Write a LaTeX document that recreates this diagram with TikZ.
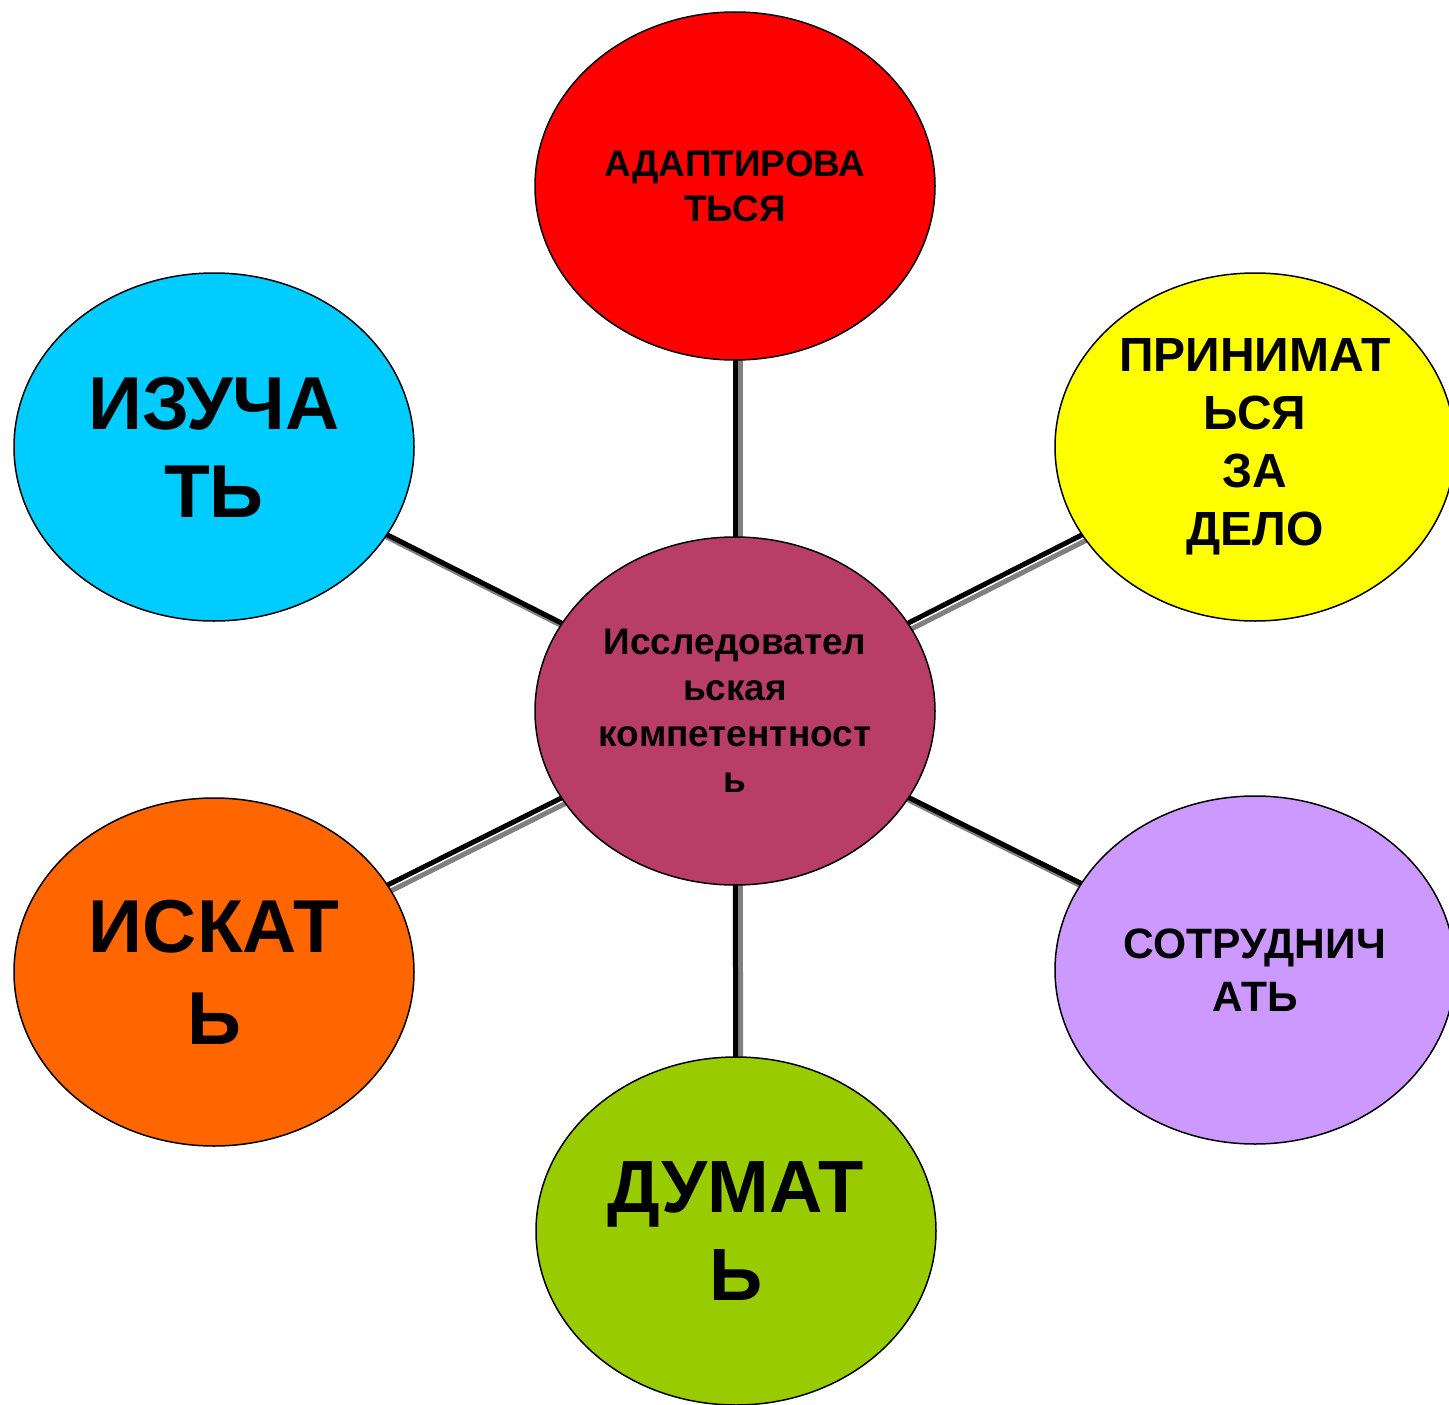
\documentclass[tikz,border=0pt]{standalone}
\usepackage{fontspec}
\setmainfont{Liberation Sans}
\usetikzlibrary{shapes.geometric,backgrounds}
\definecolor{cred}{HTML}{FF0000}
\definecolor{cyellow}{HTML}{FFFF00}
\definecolor{cblue}{HTML}{00CCFF}
\definecolor{corange}{HTML}{FF6600}
\definecolor{cpurple}{HTML}{CC99FF}
\definecolor{cgreen}{HTML}{99CC00}
\definecolor{ccenter}{HTML}{B93E67}
\definecolor{cshadow}{HTML}{808080}
\tikzset{
  bubble/.style={ellipse, draw=black, line width=1.5pt, minimum width=400pt, minimum height=348pt, inner sep=0pt, align=center, text=black, font=\bfseries},
  link/.style={line width=5pt, draw=black},
  linkshadow/.style={line width=5pt, draw=cshadow},
}
\begin{document}
\begin{tikzpicture}[x=1pt,y=-1pt]
\useasboundingbox (0,0) rectangle (1449,1405);
\node[bubble, fill=ccenter, font={\bfseries\fontsize{37}{46}\selectfont}] (c) at (735,711) {Исследовател\\ьская\\компетентност\\ь};
\node[bubble, fill=cred, font={\bfseries\fontsize{37}{45}\selectfont}] (a) at (735,186) {АДАПТИРОВА\\ТЬСЯ};
\node[bubble, fill=cyellow, font={\bfseries\fontsize{48}{58}\selectfont}] (p) at (1255,447) {ПРИНИМАТ\\ЬСЯ\\ЗА\\ДЕЛО};
\node[bubble, fill=cblue, font={\bfseries\fontsize{75}{88}\selectfont}] (i) at (214,447) {ИЗУЧА\\ТЬ};
\node[bubble, fill=corange, font={\bfseries\fontsize{75}{92}\selectfont}] (s) at (214,972) {ИСКАТ\\Ь};
\node[bubble, fill=cpurple, font={\bfseries\fontsize{42.5}{53}\selectfont}] (t) at (1255,970) {СОТРУДНИЧ\\АТЬ};
\node[bubble, fill=cgreen, font={\bfseries\fontsize{74}{88}\selectfont}] (d) at (736,1231) {ДУМАТ\\Ь};
\begin{scope}[on background layer]
  \foreach \n in {a,p,i,s,t,d} {
    \draw[linkshadow] ([shift={(5,5)}]c.center) -- ([shift={(5,5)}]\n.center);
    \draw[link] (c.center) -- (\n.center);
  }
\end{scope}
\end{tikzpicture}
\end{document}
